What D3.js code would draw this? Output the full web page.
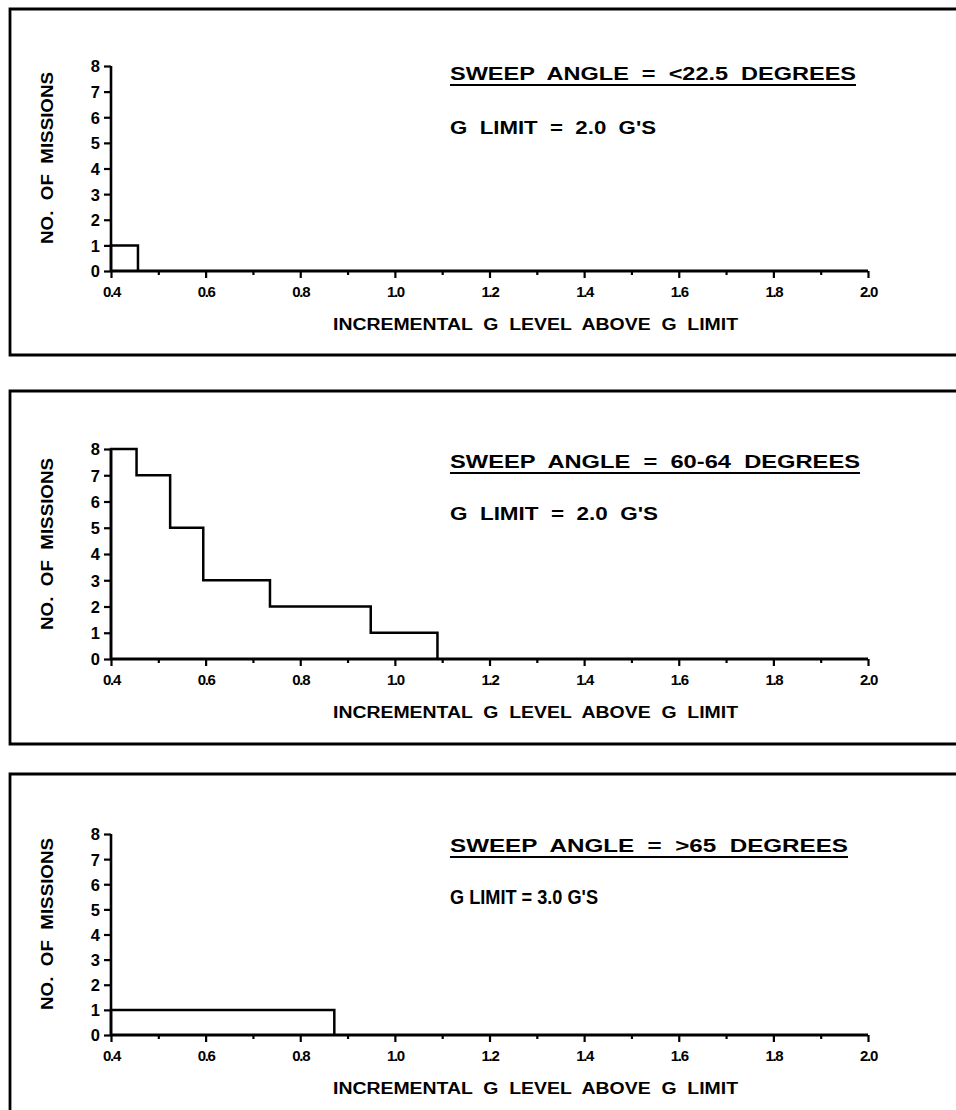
<!DOCTYPE html>
<html>
<head>
<meta charset="utf-8">
<script src="https://cdn.jsdelivr.net/npm/d3@7/dist/d3.min.js"></script>
<style>
  html, body { margin: 0; padding: 0; background: #fff; }
  svg { display: block; }
  text { font-family: "Liberation Sans", Arial, Helvetica, sans-serif; font-weight: bold; fill: #000; white-space: pre; }
</style>
</head>
<body>
<script>
// ---------- DATA ----------
const panelTitles = [
  "SWEEP  ANGLE  =  <22.5  DEGREES",
  "SWEEP  ANGLE  =  60-64  DEGREES",
  "SWEEP  ANGLE  =  >65  DEGREES"
];
const gLimitLabels = [
  "G  LIMIT  =  2.0  G'S",
  "G  LIMIT  =  2.0  G'S",
  "G LIMIT = 3.0 G'S"
];
// bin edges (incremental G) and number of missions in each bin
const edges1 = [0.40, 0.457];
const counts1 = [1];
const edges2 = [0.40, 0.454, 0.525, 0.595, 0.736, 0.949, 1.090];
const counts2 = [8, 7, 5, 3, 2, 1];
const edges3 = [0.40, 0.872];
const counts3 = [1];

const xMajorTicks = [0.4, 0.6, 0.8, 1.0, 1.2, 1.4, 1.6, 1.8, 2.0];
const xMajorLabels = ["0.4", "0.6", "0.8", "1.0", "1.2", "1.4", "1.6", "1.8", "2.0"];
const xMinorTicks = [0.5, 0.7, 0.9, 1.1, 1.3, 1.5, 1.7, 1.9];
const yTicks = [0, 1, 2, 3, 4, 5, 6, 7, 8];
const xDomain = [0.4, 2.0];
const yDomain = [0, 8];
const yAxisTitle = "NO.  OF  MISSIONS";
const xAxisTitle = "INCREMENTAL  G  LEVEL  ABOVE  G  LIMIT";

// ---------- LAYOUT ----------
const W = 956, H = 1110;
const layout = [
  { top: 9,   bottom: 355,  y8: 66,  y0: 271,  titleY: 80,  gY: 134, titleW: 406, gW: 206, gSize: 18, gWeight: "bold", yTitleC: 158 },
  { top: 391, bottom: 744,  y8: 449, y0: 659,  titleY: 468, gY: 520, titleW: 410, gW: 208, gSize: 18, gWeight: "bold", yTitleC: 544 },
  { top: 774, bottom: 1125, y8: 834, y0: 1035, titleY: 852, gY: 904, titleW: 398, gW: 148, gSize: 20, gWeight: "bold", yTitleC: 924 }
];
const panelsData = [
  { edges: edges1, counts: counts1 },
  { edges: edges2, counts: counts2 },
  { edges: edges3, counts: counts3 }
];

const svg = d3.select("body").append("svg")
  .attr("width", W).attr("height", H);

const x = d3.scaleLinear().domain(xDomain).range([111, 868]);

panelsData.forEach((pd, i) => {
  const L = layout[i];
  const g = svg.append("g");

  // frame (right side runs off the page)
  g.append("path")
    .attr("d", `M980,${L.top} H10 V${L.bottom} H980`)
    .attr("fill", "none").attr("stroke", "#000").attr("stroke-width", 2.8);

  const y = d3.scaleLinear().domain(yDomain).range([L.y0, L.y8]);

  // y axis
  const yAxis = d3.axisLeft(y).tickValues(yTicks).tickSize(7).tickPadding(4).tickFormat(d3.format("d"));
  const ya = g.append("g").attr("transform", `translate(${x(0.4)},0)`).call(yAxis);
  ya.attr("font-size", null).attr("font-family", null);
  ya.select(".domain").attr("stroke-width", 2.6).attr("d", `M0,${L.y8}V${L.y0}`);
  ya.selectAll(".tick line").attr("stroke-width", 2.2);
  ya.selectAll(".tick text")
    .style("font-size", "16.5px").style("font-weight", "bold")
    .attr("dy", "0.36em");

  // x axis (major)
  const xAxis = d3.axisBottom(x).tickValues(xMajorTicks).tickSize(7).tickPadding(8)
    .tickFormat((d, k) => xMajorLabels[k]);
  const xa = g.append("g").attr("transform", `translate(0,${L.y0})`).call(xAxis);
  xa.attr("font-size", null).attr("font-family", null);
  xa.select(".domain").attr("stroke-width", 2.8).attr("d", `M${x(0.4)},0H${x(2.0)}`);
  xa.selectAll(".tick line").attr("stroke-width", 2.2);
  xa.selectAll(".tick text")
    .style("font-size", "15px").style("font-weight", "bold")
    .style("letter-spacing", "-1.3px");
  // minor ticks
  const xm = d3.axisBottom(x).tickValues(xMinorTicks).tickSize(4).tickFormat("");
  const xma = g.append("g").attr("transform", `translate(0,${L.y0})`).call(xm);
  xma.select(".domain").remove();
  xma.selectAll(".tick line").attr("stroke-width", 2.2);

  // histogram outline (step)
  const last = pd.edges[pd.edges.length - 1];
  const outline = [[pd.edges[0], 0]];
  pd.counts.forEach((c, k) => { outline.push([pd.edges[k], c]); outline.push([pd.edges[k + 1], c]); });
  outline.push([last, 0]);
  g.append("path")
    .attr("d", d3.line().x(d => x(d[0])).y(d => y(d[1]))(outline))
    .attr("fill", "none").attr("stroke", "#000").attr("stroke-width", 2.5)
    .attr("stroke-linejoin", "miter");

  // y axis title
  g.append("text")
    .attr("transform", `translate(53,${L.yTitleC}) rotate(-90)`)
    .attr("text-anchor", "middle")
    .style("font-size", "16.5px")
    .attr("textLength", 172).attr("lengthAdjust", "spacingAndGlyphs")
    .text(yAxisTitle);

  // x axis title
  g.append("text")
    .attr("x", 333).attr("y", L.y0 + 59)
    .style("font-size", "16px")
    .attr("textLength", 405).attr("lengthAdjust", "spacingAndGlyphs")
    .text(xAxisTitle);

  // panel title (underlined)
  g.append("text")
    .attr("x", 450).attr("y", L.titleY)
    .style("font-size", "17.5px")
    .attr("textLength", L.titleW).attr("lengthAdjust", "spacingAndGlyphs")
    .text(panelTitles[i]);
  g.append("line")
    .attr("x1", 450).attr("x2", 450 + L.titleW)
    .attr("y1", L.titleY + 5).attr("y2", L.titleY + 5)
    .attr("stroke", "#000").attr("stroke-width", 1.8);

  // G limit
  g.append("text")
    .attr("x", 450).attr("y", L.gY)
    .style("font-size", L.gSize + "px")
    .style("font-weight", L.gWeight)
    .attr("textLength", L.gW).attr("lengthAdjust", "spacingAndGlyphs")
    .text(gLimitLabels[i]);
});
</script>
</body>
</html>
